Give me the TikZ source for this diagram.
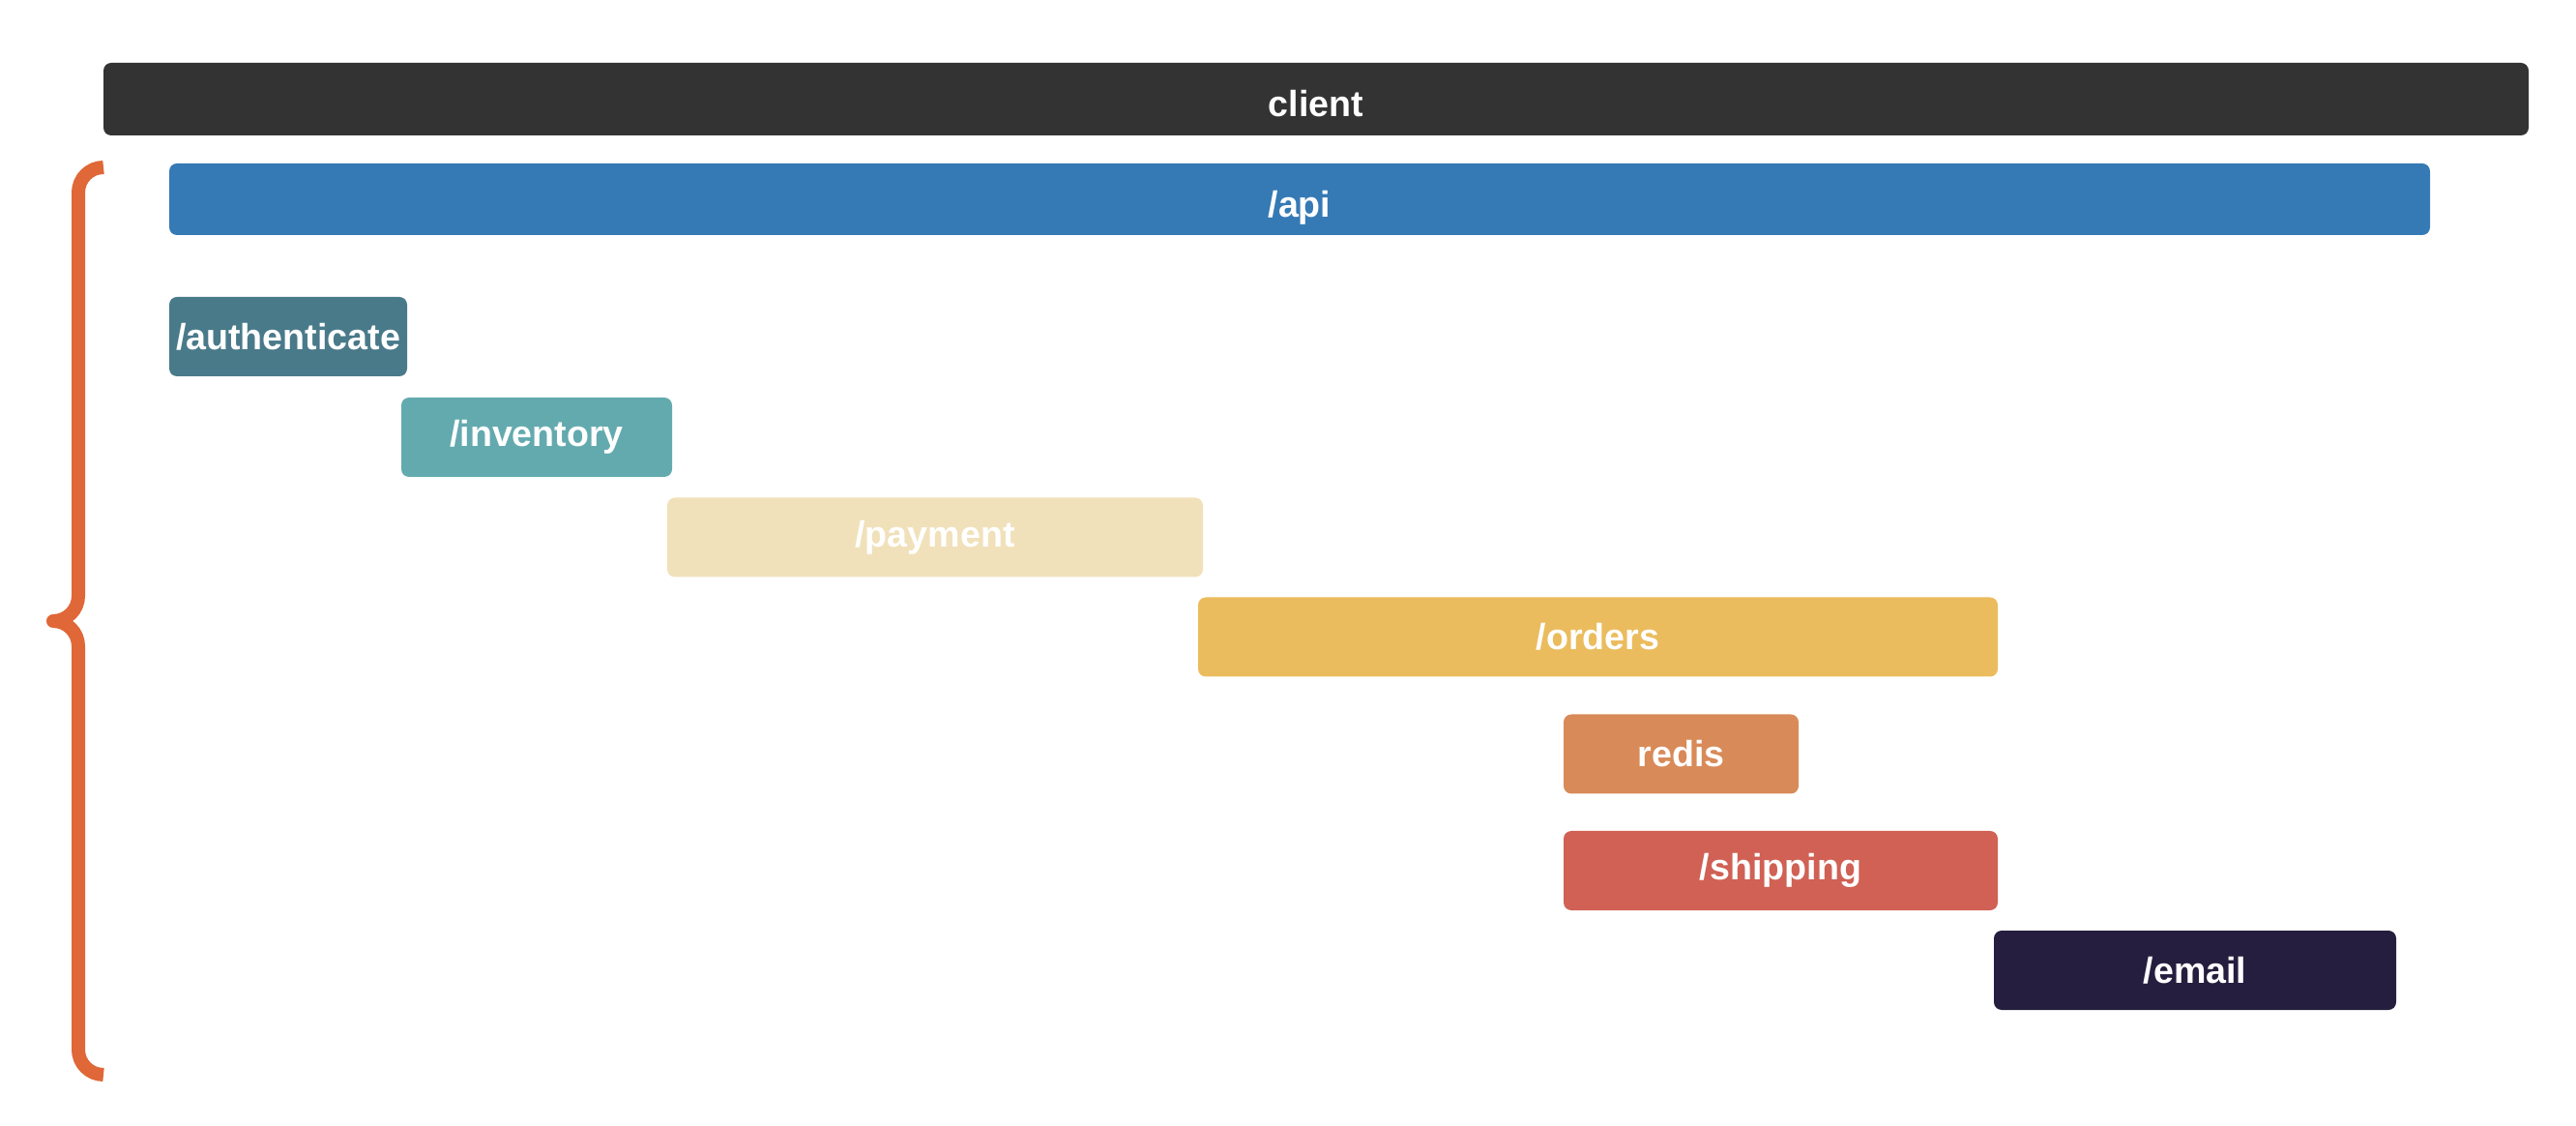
\documentclass[tikz,border=0pt]{standalone}
\usepackage{fontspec}
\newfontfamily\barfont{Liberation Sans}
\usepackage{tikz}
\definecolor{clientgray}{HTML}{333333}
\definecolor{apiblue}{HTML}{357AB5}
\definecolor{authteal}{HTML}{497A8A}
\definecolor{invteal}{HTML}{63AAAF}
\definecolor{paysand}{HTML}{F1E1BA}
\definecolor{ordyellow}{HTML}{EBBC5E}
\definecolor{redisorange}{HTML}{D88A58}
\definecolor{shipred}{HTML}{D06154}
\definecolor{emailnavy}{HTML}{251E3E}
\definecolor{braceorange}{HTML}{E06737}

\begin{document}
\begin{tikzpicture}[bar/.style={rounded corners=0.08cm, inner sep=0pt, text=white, minimum height=0.82cm, font=\barfont\bfseries\fontsize{10.7}{13}\selectfont},
                    topbar/.style={bar, minimum height=0.75cm, text height=10.4pt, text depth=0pt},
                    bracestroke/.style={draw=braceorange, line width=0.14cm, line join=round}]
                      \useasboundingbox (0,0) rectangle (26.64,-11.64);
                      \node[topbar, fill=clientgray, minimum width=25.08cm] (client) at (13.61,-1.025) {client};
                      \node[topbar, fill=apiblue, minimum width=23.38cm, minimum height=0.74cm] (api) at (13.44,-2.06) {/api};
                      \node[bar, fill=authteal, minimum width=2.46cm] (authenticate) at (2.98,-3.48) {/authenticate};
                      \node[bar, fill=invteal, minimum width=2.80cm] (inventory) at (5.55,-4.52) {/inventory};
                      \node[bar, fill=paysand, minimum width=5.54cm] (payment) at (9.67,-5.555) {/payment};
                      \node[bar, fill=ordyellow, minimum width=8.27cm] (orders) at (16.525,-6.585) {/orders};
                      \node[bar, fill=redisorange, minimum width=2.43cm] (redis) at (17.385,-7.795) {redis};
                      \node[bar, fill=shipred, minimum width=4.49cm] (shipping) at (18.415,-9.00) {/shipping};
                      \node[bar, fill=emailnavy, minimum width=4.16cm] (email) at (22.70,-10.03) {/email};
                      \draw[bracestroke] (1.07,-1.73) arc[start angle=90, end angle=180, radius=0.26] -- (0.81,-6.16) arc[start angle=0, end angle=-90, radius=0.26] arc[start angle=90, end angle=0, radius=0.26] -- (0.81,-10.85) arc[start angle=180, end angle=270, radius=0.26];
                  \end{tikzpicture}
\end{document}
